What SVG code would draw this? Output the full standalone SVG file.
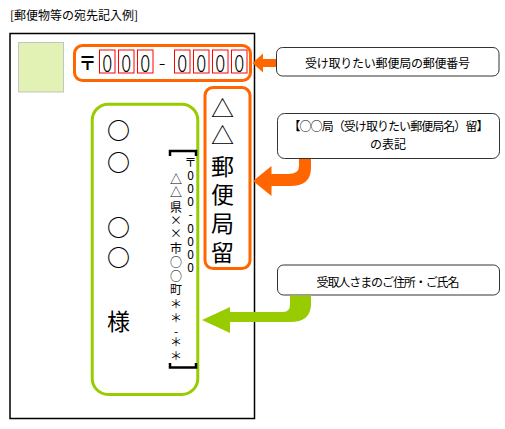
<svg xmlns="http://www.w3.org/2000/svg" width="505" height="429" viewBox="0 0 505 429">
<style>
text{font-family:"Noto Sans CJK JP","Noto Sans",sans-serif;fill:#000;dominant-baseline:central}
.lbl{fill:#fff;stroke:#333;stroke-width:1}
.or{fill:none;stroke:#ff6600;stroke-width:3}
.gr{fill:none;stroke:#99cc00;stroke-width:3}
.dg{fill:none;stroke:#ff0000;stroke-width:1}
.d{font-size:24px;font-weight:300;text-anchor:middle}
.big{font-size:23px;text-anchor:middle}
.sm{font-size:12px;text-anchor:middle}
.lt{font-size:12px;text-anchor:middle}
</style>
<rect width="505" height="429" fill="#fff"/>
<text id="title" x="10" y="14" font-size="12" textLength="128">[郵便物等の宛先記入例]</text>
<g id="envelope"><rect x="10" y="33.5" width="244.5" height="385" fill="none" stroke="#000" stroke-width="1.5"/></g>
<g id="stamp"><rect x="18.5" y="42.5" width="45" height="49.5" fill="#e1f2b4" stroke="#c4c4c4" stroke-width="1"/></g>
<g id="postal">
<rect class="or" x="74.5" y="45.5" width="176" height="35" rx="8"/>
<text x="87.5" y="62" font-size="18" font-weight="bold" text-anchor="middle">〒</text>
<rect class="dg" x="99.5" y="50" width="15.5" height="23"/>
<rect class="dg" x="118.5" y="50" width="15.5" height="23"/>
<rect class="dg" x="137.5" y="50" width="15.5" height="23"/>
<rect class="dg" x="174.5" y="50" width="15.5" height="23"/>
<rect class="dg" x="193.5" y="50" width="15.5" height="23"/>
<rect class="dg" x="212.5" y="50" width="15.5" height="23"/>
<rect class="dg" x="231.5" y="50" width="15.5" height="23"/>
<text class="d" x="107.25" y="61.5" textLength="10" lengthAdjust="spacingAndGlyphs">0</text>
<text class="d" x="126.25" y="61.5" textLength="10" lengthAdjust="spacingAndGlyphs">0</text>
<text class="d" x="145.25" y="61.5" textLength="10" lengthAdjust="spacingAndGlyphs">0</text>
<text x="162" y="61.5" font-size="20" font-weight="300" text-anchor="middle">-</text>
<text class="d" x="182.25" y="61.5" textLength="10" lengthAdjust="spacingAndGlyphs">0</text>
<text class="d" x="201.25" y="61.5" textLength="10" lengthAdjust="spacingAndGlyphs">0</text>
<text class="d" x="220.25" y="61.5" textLength="10" lengthAdjust="spacingAndGlyphs">0</text>
<text class="d" x="239.25" y="61.5" textLength="10" lengthAdjust="spacingAndGlyphs">0</text>
</g>
<g id="kyokudome">
<rect class="or" x="205" y="87.5" width="45" height="181" rx="8"/>
<text class="big" x="222.5 222.5 222.5 222.5 222.5 222.5" y="106.5 134 164.5 193 222 250.5">△△郵便局留</text>
</g>
<g id="recipient">
<rect class="gr" x="92.2" y="104.2" width="105.6" height="290.3" rx="16"/>
<text class="big" x="118.5 118.5 118.5 118.5 118.5" y="129 161 226 256 320" font-weight="bold">○○○○<tspan font-weight="normal">様</tspan></text>
<path d="M170 156 V151 H196 V156 M170 363 V367.5 H196 V363" fill="none" stroke="#000" stroke-width="2.5"/>
<text class="sm" x="190.5 190.5 190.5 190.5 190.5 190.5 190.5 190.5 190.5" y="161.5 174.6 187.7 200.8 213.9 227 240.1 253.2 266.3">〒000-0000</text>
<text class="sm" x="176 176 176 176 176 176 176 176 176 176 176 176 176 176" y="178.5 191 206 219.5 232.5 247.5 261.5 275 288.5 303 317 330 341 355">△△県××市○○町＊＊-＊＊</text>
</g>
<g id="label1">
<rect class="lbl" x="276.5" y="47.5" width="222.5" height="28.5" rx="6"/>
<text class="lt" x="387.5" y="62" textLength="165">受け取りたい郵便局の郵便番号</text>
</g>
<g id="label2">
<rect class="lbl" x="277.5" y="113.5" width="222" height="45" rx="7"/>
<text class="lt" x="388.5" y="125.5" font-size="11.5" textLength="200">【○○局（受け取りたい郵便局名）留】</text>
<text class="lt" x="388" y="143" font-size="11.5">の表記</text>
</g>
<g id="label3">
<rect class="lbl" x="277.5" y="265" width="222" height="30" rx="6"/>
<text class="lt" x="388" y="281" font-size="11.5" textLength="143">受取人さまのご住所・ご氏名</text>
</g>
<g id="connectors">
<path d="M276 59 V67 H263 V72.5 L252.5 63 L263 53.5 V59 Z" fill="#ff6600"/>
<path d="M299 159 H311 V168 Q311 186 290 186 H271.5 V196 L253 181 L271.5 166 V174 H288 Q299 174 299 166 Z" fill="#ff6600"/>
<path d="M290 295.5 H311 V304 Q311 322 290 322 H230 V333 L202 320 L230 307 V312 H283 Q290 312 290 305 Z" fill="#99cc00"/>
</g>
</svg>
